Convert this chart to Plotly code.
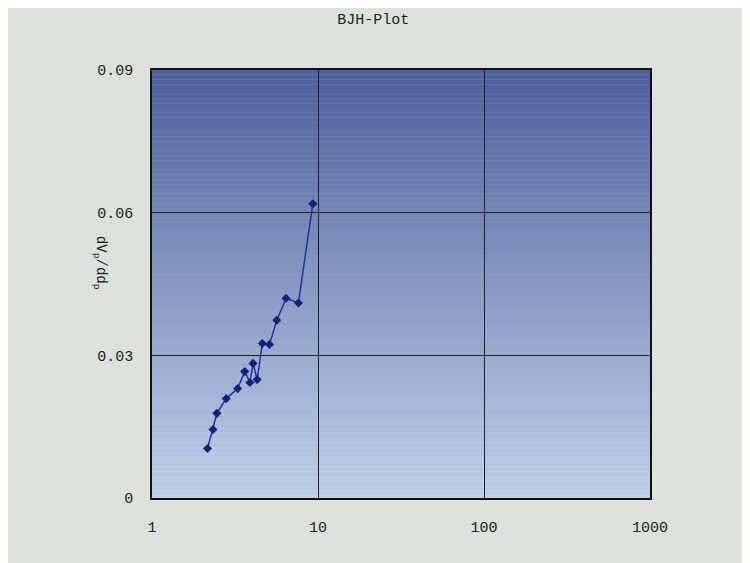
import plotly.graph_objects as go

# BJH pore-size distribution
pore_d = [2.16, 2.33, 2.46, 2.80, 3.28, 3.62, 3.89, 4.06, 4.30, 4.62, 5.10, 5.65, 6.42, 7.62, 9.31]
dv_dd = [0.0104, 0.0144, 0.0178, 0.0209, 0.0230, 0.0266, 0.0243, 0.0283, 0.0249,
         0.0325, 0.0323, 0.0374, 0.0420, 0.0410, 0.0619]

x_ticks = [1, 10, 100, 1000]
y_ticks = [0, 0.03, 0.06, 0.09]

font_mono = "Liberation Mono, DejaVu Sans Mono, monospace"

fig = go.Figure()
fig.add_trace(go.Scatter(
    x=pore_d, y=dv_dd, mode="lines+markers",
    line=dict(color="#24329a", width=1.5),
    marker=dict(symbol="diamond", size=7, color="#15207a"),
    showlegend=False,
))

# gradient plot background: medium blue at top, pale blue at bottom
n = 90
top = (78, 96, 156)
bot = (192, 210, 234)
for i in range(n):
    t = i / (n - 1)
    c = tuple(int(top[k] + (bot[k] - top[k]) * t) for k in range(3))
    fig.add_shape(type="rect", xref="x domain", yref="y domain",
                  x0=0, x1=1, y0=1 - (i + 1) / n, y1=1 - i / n,
                  fillcolor="rgb(%d,%d,%d)" % c, line_width=0, layer="below")

fig.update_layout(
    width=750, height=563,
    margin=dict(l=144, r=108, t=62, b=73),
    paper_bgcolor="#dce3db",
    plot_bgcolor="#8fa6cf",
    title=dict(text="BJH-Plot", x=0.487, xanchor="center", y=0.99,
               font=dict(family=font_mono, size=15, color="#222")),
    font=dict(family=font_mono, size=15, color="#222"),
    annotations=[dict(text="dV<sub>p</sub>/dd<sub>p</sub>", textangle=90,
                      xref="paper", yref="paper", x=-0.125, y=0.55,
                      showarrow=False, font=dict(family=font_mono, size=14, color="#222"))],
)
fig.update_xaxes(type="log", range=[0, 3], tickvals=x_ticks, ticktext=[str(v) for v in x_ticks],
                 showgrid=True, gridcolor="#222", gridwidth=1, zeroline=False,
                 showline=True, linecolor="#111", linewidth=1.5, mirror=True, ticklen=0,
                 ticks="", ticklabelstandoff=14)
fig.update_yaxes(range=[0, 0.09], tickvals=y_ticks, ticktext=["0", "0.03", "0.06", "0.09"],
                 showgrid=True, gridcolor="#222", gridwidth=1, zeroline=False,
                 showline=True, linecolor="#111", linewidth=1.5, mirror=True, ticks="",
                 ticklabelstandoff=14)

fig.write_html("out.html")
